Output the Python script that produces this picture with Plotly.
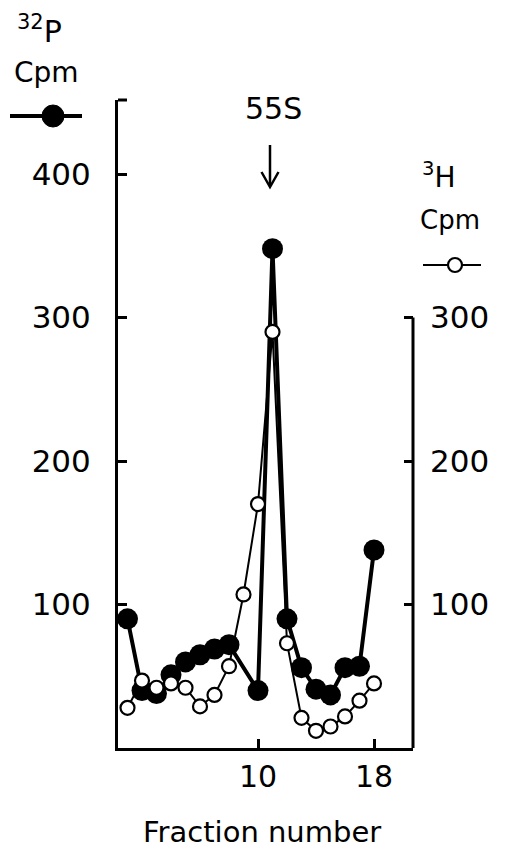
import plotly.graph_objects as go

# ---- data ----
p32_fraction = [1, 2, 3, 4, 5, 6, 7, 8, 10, 11, 12, 13, 14, 15, 16, 17, 18]
p32_cpm = [90, 40, 38, 51, 60, 65, 69, 72, 40, 348, 90, 56, 41, 37, 56, 57, 138]

h3_fraction = [1, 2, 3, 4, 5, 6, 7, 8, 9, 10, 11, 12, 13, 14, 15, 16, 17, 18]
h3_cpm = [28, 47, 42, 45, 42, 29, 37, 57, 107, 170, 290, 73, 21, 12, 15, 22, 33, 45]

x_tick_vals = [10, 18]
x_tick_text = ["10", "18"]
left_tick_vals = [100, 200, 300, 400]
right_tick_vals = [100, 200, 300]

# ---- layout geometry (pixels) ----
W, H = 510, 851
L, R, T, B = 118, 97, 100, 103
PW, PH = W - L - R, H - T - B
X_RANGE = [0.345, 20.69]
Y_RANGE = [0, 451.6]


def px(x):
    return (x - L) / PW


def py(y):
    return (H - B - y) / PH


FONT = "DejaVu Sans"

fig = go.Figure()

fig.add_trace(go.Scatter(
    x=p32_fraction, y=p32_cpm, mode="lines+markers",
    line=dict(color="black", width=4),
    marker=dict(size=21, color="black"),
    yaxis="y", showlegend=False, cliponaxis=False))

fig.add_trace(go.Scatter(
    x=h3_fraction, y=h3_cpm, mode="lines+markers",
    line=dict(color="black", width=2),
    marker=dict(size=14, color="white", line=dict(color="black", width=2.2)),
    yaxis="y2", showlegend=False, cliponaxis=False))

shapes = []
# left axis top cap
shapes.append(dict(type="line", xref="paper", yref="paper",
                   x0=0, x1=px(127), y0=1, y1=1,
                   line=dict(color="black", width=3)))
# right axis line (0..300)
shapes.append(dict(type="line", xref="paper", yref="y",
                   x0=1, x1=1, y0=0, y1=300,
                   line=dict(color="black", width=3)))
# closed legend symbol
shapes.append(dict(type="line", xref="paper", yref="paper",
                   x0=px(10), x1=px(82), y0=py(116), y1=py(116),
                   line=dict(color="black", width=4)))
shapes.append(dict(type="circle", xref="paper", yref="paper",
                   x0=px(42), x1=px(64), y0=py(105), y1=py(127),
                   fillcolor="black", line=dict(color="black", width=1)))
# open legend symbol
shapes.append(dict(type="line", xref="paper", yref="paper",
                   x0=px(423), x1=px(481), y0=py(265), y1=py(265),
                   line=dict(color="black", width=2)))
shapes.append(dict(type="circle", xref="paper", yref="paper",
                   x0=px(448), x1=px(462), y0=py(258), y1=py(272),
                   fillcolor="white", line=dict(color="black", width=2.2)))
# 55S arrow
shapes.append(dict(type="line", xref="paper", yref="paper",
                   x0=px(270), x1=px(270), y0=py(145), y1=py(186),
                   line=dict(color="black", width=2.5)))
shapes.append(dict(type="path", xref="paper", yref="paper",
                   path=f"M {px(261.5)},{py(172)} L {px(270)},{py(187)} L {px(278.5)},{py(172)}",
                   line=dict(color="black", width=2.5)))

annotations = [
    dict(text="<sup>32</sup>P", x=px(15), y=py(29), xanchor="left", yanchor="middle",
         font=dict(size=30, family=FONT, color="black")),
    dict(text="Cpm", x=px(46), y=py(72), xanchor="center", yanchor="middle",
         font=dict(size=28, family=FONT, color="black")),
    dict(text="<sup>3</sup>H", x=px(420), y=py(176), xanchor="left", yanchor="middle",
         font=dict(size=28, family=FONT, color="black")),
    dict(text="Cpm", x=px(450), y=py(220), xanchor="center", yanchor="middle",
         font=dict(size=26, family=FONT, color="black")),
    dict(text="55S", x=px(273), y=py(108), xanchor="center", yanchor="middle",
         font=dict(size=30, family=FONT, color="black")),
    dict(text="Fraction number", x=px(262), y=py(832), xanchor="center", yanchor="middle",
         font=dict(size=29, family=FONT, color="black")),
]
for a in annotations:
    a.update(xref="paper", yref="paper", showarrow=False)

fig.update_layout(
    width=W, height=H,
    margin=dict(l=L, r=R, t=T, b=B, pad=0),
    paper_bgcolor="white", plot_bgcolor="white",
    font=dict(family=FONT, color="black"),
    xaxis=dict(range=X_RANGE, tickvals=x_tick_vals, ticktext=x_tick_text,
               ticks="inside", ticklen=9, tickwidth=3, tickcolor="black",
               showline=True, linewidth=3, linecolor="black",
               showgrid=False, zeroline=False, ticklabelstandoff=0,
               tickfont=dict(size=30, family=FONT, color="black")),
    yaxis=dict(range=Y_RANGE, tickvals=left_tick_vals,
               ticks="inside", ticklen=9, tickwidth=3, tickcolor="black",
               showline=True, linewidth=3, linecolor="black",
               showgrid=False, zeroline=False, ticklabelstandoff=18,
               tickfont=dict(size=31, family=FONT, color="black")),
    yaxis2=dict(range=Y_RANGE, tickvals=right_tick_vals, overlaying="y", side="right",
                anchor="x", ticks="inside", ticklen=9, tickwidth=3, tickcolor="black",
                showline=False, showgrid=False, zeroline=False, ticklabelstandoff=16,
                tickfont=dict(size=31, family=FONT, color="black")),
    shapes=shapes, annotations=annotations,
)

fig.write_html("out.html")
